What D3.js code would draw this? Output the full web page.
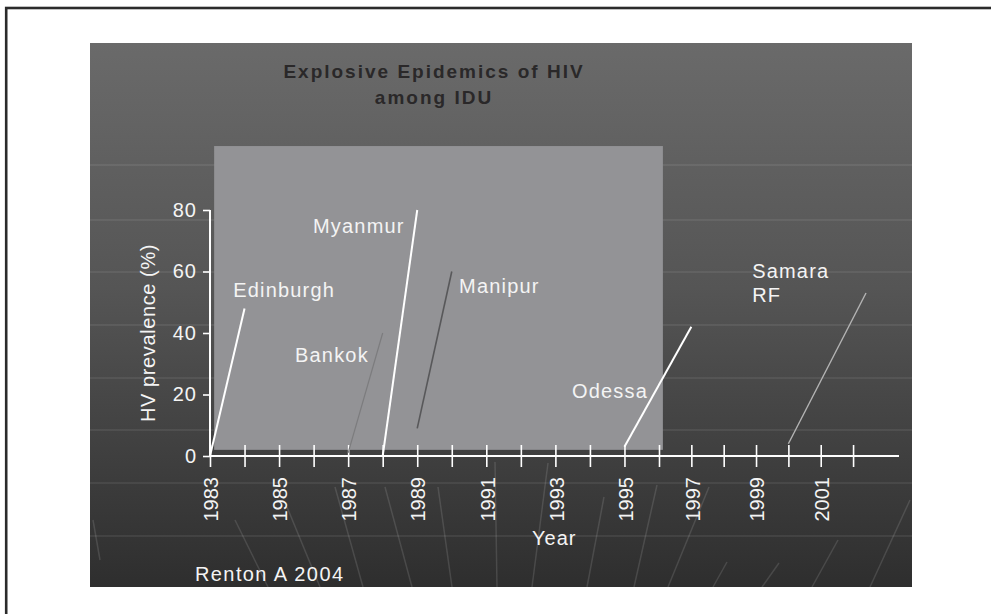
<!DOCTYPE html>
<html>
<head>
<meta charset="utf-8">
<script src="https://cdn.jsdelivr.net/npm/d3@7"></script>
<style>
  body { margin: 0; background: #fff; }
  svg { display: block; }
  text { font-family: Arial, "Liberation Sans", Helvetica, sans-serif; }
</style>
</head>
<body>
<div class="graphic"></div>
<script>
// chart values
var cities     = ["Edinburgh", "Bankok", "Myanmur", "Manipur", "Odessa", "Samara RF"];
var startYear  = [1983, 1987, 1988, 1989, 1995, 2000];
var endYear    = [1984, 1988, 1989, 1990, 1997, 2002.4];
var startPrev  = [0, 1, 0, 9, 3, 4];
var endPrev    = [48, 40, 80, 60, 42, 53];
var lineColor  = ["#ffffff", "#7c7c7e", "#ffffff", "#58585a", "#ffffff", "#b4b4b4"];
var lineWidth  = [2, 1.2, 2, 1.6, 2, 1.4];

// where each city name sits (in year / prevalence units)
var labelYear  = [1983.67, 1985.46, 1985.98, 1990.21, 1993.48, 1998.88];
var labelPrev  = [51.7, 30.6, 72.5, 53.0, 18.9, 57.9];

var tickYears  = [1983, 1984, 1985, 1986, 1987, 1988, 1989, 1990, 1991, 1992,
                  1993, 1994, 1995, 1996, 1997, 1998, 1999, 2000, 2001, 2002];
var labelYears = [1983, 1985, 1987, 1989, 1991, 1993, 1995, 1997, 1999, 2001];
var prevTicks  = [0, 20, 40, 60, 80];

var width = 991;
var height = 614;

var svg = d3.select("div.graphic").append("svg")
	.attr("width", width)
	.attr("height", height);

// outer frame (right and bottom edges fall outside the picture)
svg.append("rect")
	.attr("x", 6.2).attr("y", 8)
	.attr("width", 1000).attr("height", 700)
	.attr("fill", "none")
	.attr("stroke", "#2b2b2b")
	.attr("stroke-width", 2.6);

// dark slide panel
var defs = svg.append("defs");
var grad = defs.append("linearGradient")
	.attr("id", "panelGrad")
	.attr("x1", 0).attr("y1", 0).attr("x2", 0).attr("y2", 1);
grad.append("stop").attr("offset", "0%").attr("stop-color", "#6a6a6a");
grad.append("stop").attr("offset", "45%").attr("stop-color", "#555555");
grad.append("stop").attr("offset", "100%").attr("stop-color", "#2e2e2e");

var panel = {x: 90, y: 43, w: 822, h: 544};
svg.append("rect")
	.attr("x", panel.x).attr("y", panel.y)
	.attr("width", panel.w).attr("height", panel.h)
	.attr("fill", "url(#panelGrad)");

// faint texture of the slide background
var texture = svg.append("g").attr("class", "texture");
[165, 220, 272, 325, 378, 430, 483, 536].forEach(function(yy){
	texture.append("line")
		.attr("x1", panel.x).attr("x2", panel.x + panel.w)
		.attr("y1", yy).attr("y2", yy)
		.attr("stroke", "#ffffff")
		.attr("stroke-opacity", 0.07)
		.attr("stroke-width", 2);
});
var streaks = [[235,520,268,587],[287,507,320,587],[335,487,363,587],[385,487,412,587],
               [438,487,452,587],[495,462,497,587],[548,463,532,587],[604,497,587,587],
               [657,485,634,587],[709,487,668,587],[727,562,713,587],[779,563,762,587],
               [838,540,812,587],[910,500,870,587],[93,520,100,560]];
streaks.forEach(function(s){
	texture.append("line")
		.attr("x1", s[0]).attr("y1", s[1]).attr("x2", s[2]).attr("y2", s[3])
		.attr("stroke", "#ffffff")
		.attr("stroke-opacity", 0.12)
		.attr("stroke-width", 1.5);
});

// scales (the slide's year spacing narrows a little after 1996)
var x = d3.scaleLinear()
	.domain([1983, 1996, 2003.42])
	.range([210, 659, 899]);
var y = d3.scaleLinear()
	.domain([0, 80])
	.range([456, 210]);

// light grey highlight box
svg.append("rect")
	.attr("x", x(1983.12))
	.attr("y", y(100.8))
	.attr("width", x(1996.12) - x(1983.12))
	.attr("height", y(2) - y(100.8))
	.attr("fill", "#939396");

// title
var title = svg.append("text")
	.attr("text-anchor", "middle")
	.attr("font-size", 19)
	.attr("font-weight", "bold")
	.attr("letter-spacing", 2)
	.attr("fill", "#2a2829");
title.append("tspan").attr("x", 434).attr("y", 78).text("Explosive Epidemics of HIV");
title.append("tspan").attr("x", 434).attr("y", 104).text("among IDU");

// x axis
var xAxis = svg.append("g")
	.attr("transform", "translate(0," + y(0) + ")")
	.call(d3.axisBottom(x).tickValues(tickYears).tickSize(11).tickFormat(""));
xAxis.select(".domain").remove();
xAxis.selectAll(".tick line")
	.attr("y1", -11).attr("y2", 11)
	.attr("stroke", "#ffffff")
	.attr("stroke-width", 1.6);
svg.append("line")
	.attr("x1", x(1983)).attr("x2", x.range()[2])
	.attr("y1", y(0)).attr("y2", y(0))
	.attr("stroke", "#ffffff")
	.attr("stroke-width", 2);

svg.append("g").selectAll("text")
	.data(labelYears)
	.enter()
	.append("text")
	.attr("transform", function(d){ return "translate(" + (x(d) + 1) + "," + 477 + ") rotate(-90)"; })
	.attr("text-anchor", "end")
	.attr("dy", "0.36em")
	.attr("font-size", 20)
	.attr("fill", "#f4f4f4")
	.text(function(d){ return d; });

// y axis
var yAxis = svg.append("g")
	.attr("transform", "translate(" + x(1983) + ",0)")
	.call(d3.axisLeft(y).tickValues(prevTicks).tickSize(7).tickPadding(6));
yAxis.select(".domain").remove();
yAxis.selectAll(".tick line").attr("stroke", "#ffffff").attr("stroke-width", 1.6);
yAxis.selectAll(".tick text")
	.attr("font-size", 20)
	.attr("font-family", "Arial, 'Liberation Sans', sans-serif")
	.attr("letter-spacing", 1)
	.attr("fill", "#f4f4f4");
svg.append("line")
	.attr("x1", x(1983)).attr("x2", x(1983))
	.attr("y1", y(80)).attr("y2", y(0))
	.attr("stroke", "#ffffff")
	.attr("stroke-width", 2);

// axis titles
svg.append("text")
	.attr("transform", "translate(155,333) rotate(-90)")
	.attr("text-anchor", "middle")
	.attr("font-size", 20)
	.attr("letter-spacing", 0.6)
	.attr("fill", "#f4f4f4")
	.text("HV prevalence (%)");
svg.append("text")
	.attr("x", 532).attr("y", 545)
	.attr("font-size", 20)
	.attr("letter-spacing", 1)
	.attr("fill", "#f4f4f4")
	.text("Year");

// epidemic lines
var idx = d3.range(cities.length);
svg.append("g").selectAll("line")
	.data(idx)
	.enter()
	.append("line")
	.attr("x1", function(i){ return x(startYear[i]); })
	.attr("y1", function(i){ return y(startPrev[i]); })
	.attr("x2", function(i){ return x(endYear[i]); })
	.attr("y2", function(i){ return y(endPrev[i]); })
	.attr("stroke", function(i){ return lineColor[i]; })
	.attr("stroke-width", function(i){ return lineWidth[i]; });

// city names
var names = svg.append("g").selectAll("text")
	.data(idx)
	.enter()
	.append("text")
	.attr("x", function(i){ return x(labelYear[i]); })
	.attr("y", function(i){ return y(labelPrev[i]); })
	.attr("font-size", 20)
	.attr("letter-spacing", 1.2)
	.attr("fill", "#f4f4f4");
names.each(function(i){
	var parts = cities[i].split(" ");
	var t = d3.select(this);
	parts.forEach(function(p, k){
		t.append("tspan")
			.attr("x", x(labelYear[i]))
			.attr("dy", k == 0 ? 0 : 24)
			.text(p);
	});
});

// source
svg.append("text")
	.attr("x", 195).attr("y", 581)
	.attr("font-size", 20)
	.attr("letter-spacing", 1.4)
	.attr("fill", "#f4f4f4")
	.text("Renton A 2004");
</script>
</body>
</html>
